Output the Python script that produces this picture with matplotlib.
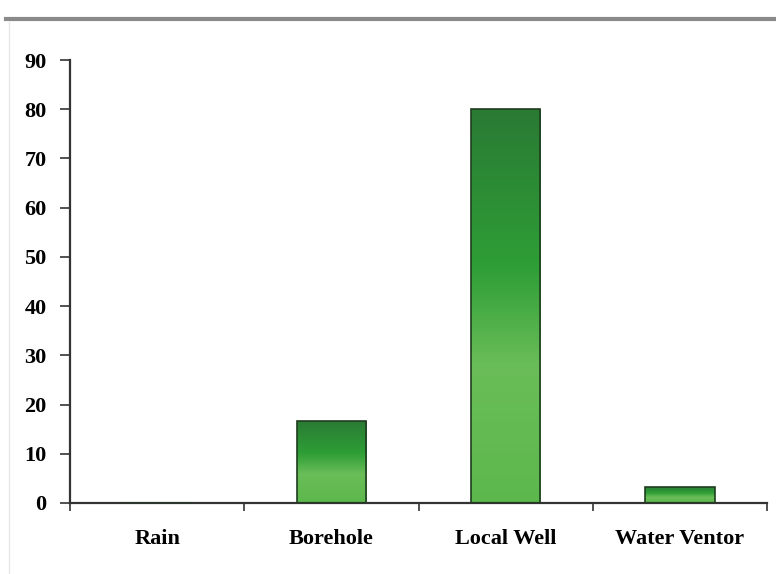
import matplotlib
matplotlib.use("Agg")
import matplotlib.pyplot as plt
import numpy as np
from matplotlib.colors import LinearSegmentedColormap
from matplotlib.lines import Line2D
from matplotlib.patches import Rectangle

categories = ["Rain", "Borehole", "Local Well", "Water Ventor"]
values = [0, 16.7, 80, 3.3]
y_ticks = [0, 10, 20, 30, 40, 50, 60, 70, 80, 90]

W, H = 776, 574
fig = plt.figure(figsize=(W / 100, H / 100), dpi=100)
ax = fig.add_axes([70 / W, 1 - 503 / H, (767 - 70) / W, (503 - 60) / H])

font = dict(family="Liberation Serif", weight="bold", size=16)

# vertical green gradient for the bars (bottom -> top)
green = LinearSegmentedColormap.from_list(
    "green_bar",
    [(0.0, "#5cb84c"), (0.35, "#6abd58"), (0.6, "#2e9e36"), (1.0, "#2a7a34")],
)
grad = np.linspace(0, 1, 256).reshape(-1, 1)

x = np.arange(len(categories))
bar_w = 0.4
bars = ax.bar(x, values, width=bar_w, color="none", edgecolor="#1f3d1f",
              linewidth=1.2, zorder=3)
for b, v in zip(bars, values):
    if v <= 0:
        continue
    x0 = b.get_x()
    im = ax.imshow(grad, cmap=green, aspect="auto", origin="lower",
                   extent=[x0, x0 + bar_w, 0, v], zorder=2,
                   interpolation="bicubic")
    im.set_clip_path(Rectangle((x0, 0), bar_w, v, transform=ax.transData))

ax.set_xlim(-0.5, len(categories) - 0.5)
ax.set_ylim(0, 90)
ax.set_yticks(y_ticks)
ax.set_yticklabels([str(t) for t in y_ticks], **font)
ax.set_xticks(x)
ax.set_xticklabels(categories, **font)
ax.tick_params(axis="x", length=0, pad=19)
ax.set_xticks(np.arange(-0.5, len(categories)), minor=True)
ax.tick_params(axis="x", which="minor", length=6, width=1.2, color="#333333",
               direction="out")
ax.tick_params(axis="y", length=7, width=1.2, color="#333333", pad=10,
               direction="out")

for side in ("top", "right"):
    ax.spines[side].set_visible(False)
for side in ("left", "bottom"):
    ax.spines[side].set_color("#333333")
    ax.spines[side].set_linewidth(1.6)

# frame decoration: heavy grey rule at the top and a faint rule on the left
fig.add_artist(Line2D([6 / W, 1], [1 - 19 / H, 1 - 19 / H], color="#8a8a8a",
                      linewidth=3.0, transform=fig.transFigure))
fig.add_artist(Line2D([9 / W, 9 / W], [1 - 22 / H, 0], color="#e6e6e6",
                      linewidth=1.0, transform=fig.transFigure))

fig.savefig("out.png", dpi=100)
